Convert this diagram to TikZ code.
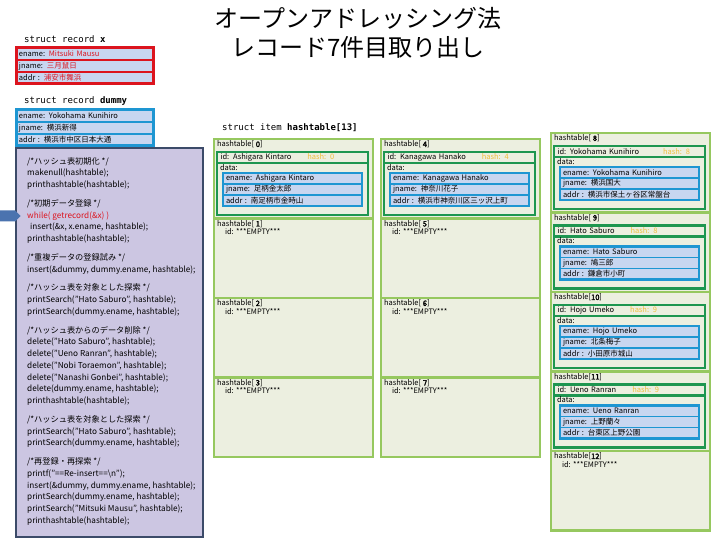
\documentclass[tikz,border=0pt]{standalone}
\usepackage{fontspec}
\setmainfont{Noto Sans CJK JP}[BoldFont={Noto Sans CJK JP}, BoldFeatures={FakeBold=2.5}]
\newfontfamily\monofont{DejaVu Sans Mono}
\usepackage{xcolor}
\usepackage{tikz}
\usetikzlibrary{positioning,fit,shapes.arrows}

\definecolor{cellgreen}{RGB}{150,200,95}
\definecolor{cellbg}{RGB}{236,239,224}
\definecolor{idgreen}{RGB}{30,150,80}
\definecolor{recblue}{RGB}{30,150,210}
\definecolor{rowblue}{RGB}{200,214,240}
\definecolor{recred}{RGB}{220,20,30}
\definecolor{codebg}{RGB}{204,198,226}
\definecolor{codeline}{RGB}{60,75,105}
\definecolor{arrblue}{RGB}{75,115,175}
\definecolor{hashyel}{RGB}{240,190,60}

\begin{document}
\begin{tikzpicture}[
  x=1pt, y=-1pt,
  font=\fontsize{7.5}{9}\selectfont,
  cell/.style={rectangle, draw=cellgreen, line width=2.5pt, fill=cellbg,
               minimum width=159pt, minimum height=79.5pt, inner sep=0pt,
               outer sep=0pt, anchor=north west},
  lbl/.style={anchor=north west, inner sep=0pt, outer sep=0pt},
  idbox/.style={rectangle, draw=idgreen, line width=2.5pt, fill=cellbg,
                text width=144pt, minimum height=11pt, inner xsep=3.5pt,
                inner ysep=0pt, outer sep=0pt, align=left, anchor=north west},
  databox/.style={rectangle, draw=idgreen, line width=2.5pt, fill=cellbg,
                  minimum width=151pt, minimum height=52pt, inner sep=0pt,
                  outer sep=0pt, anchor=north west},
  recrow/.style={rectangle, draw=recblue, line width=1.5pt, fill=rowblue,
                 text width=133pt, minimum height=11pt, inner xsep=3pt,
                 inner ysep=0pt, outer sep=0pt, align=left, anchor=north west},
  redrow/.style={recrow, draw=recred, text width=131pt, minimum height=12pt},
  recframe/.style={draw=recblue, line width=2.5pt, inner sep=0pt, outer sep=0pt},
  codebox/.style={rectangle, draw=codeline, line width=1.5pt, fill=codebg,
                  minimum width=187pt, minimum height=389pt, inner sep=0pt,
                  outer sep=0pt, anchor=north west},
  codetxt/.style={anchor=north west, inner sep=0pt, align=left,
                  font=\fontsize{8.2}{11.75}\selectfont},
  structlbl/.style={anchor=west, inner sep=0pt, font=\monofont\fontsize{9}{11}\selectfont},
]

\path[use as bounding box, fill=white] (0,0) rectangle (720,540);

%% ===== Title =====
\node[align=center, font=\fontsize{24}{29}\selectfont] (title) at (358,33)
  {オープンアドレッシング法\\レコード7件目取り出し};

%% ===== struct record x =====
\node[structlbl] (xlbl) at (24,39) {struct record \textbf{x}};
\node[redrow] (xen) at (16,48) {ename: \textcolor{recred}{Mitsuki Mausu}};
\node[redrow, below right=0pt and 0pt of xen.south west] (xjn) {jname: \textcolor{recred}{三月鼠日}};
\node[redrow, below right=0pt and 0pt of xjn.south west] (xad) {addr\ : \textcolor{recred}{浦安市舞浜}};
\node[recframe, draw=recred, line width=3pt, fit=(xen)(xad)] (xrec) {};

%% ===== struct record dummy =====
\node[structlbl] (dlbl) at (24,101) {struct record \textbf{dummy}};
\node[redrow, draw=recblue] (den) at (16,110) {ename: Yokohama Kunihiro};
\node[redrow, draw=recblue, below right=0pt and 0pt of den.south west] (djn) {jname: 横浜新得};
\node[redrow, draw=recblue, below right=0pt and 0pt of djn.south west] (dad) {addr\ : 横浜市中区日本大通};
\node[recframe, line width=3pt, fit=(den)(dad)] (drec) {};

%% ===== main program =====
\node[codebox] (code) at (16,148) {};
\node[codetxt, below right=9pt and 11pt of code.north west] (codetext) {
  /*ハッシュ表初期化 */\\
  makenull(hashtable);\\
  printhashtable(hashtable);\\[7pt]
  /*初期データ登録 */\\
  \textcolor{recred}{while( getrecord(\&x) )}\\
  \hspace{3pt}insert(\&x, x.ename, hashtable);\\
  printhashtable(hashtable);\\[7pt]
  /*重複データの登録試み */\\
  insert(\&dummy, dummy.ename, hashtable);\\[7pt]
  /*ハッシュ表を対象とした探索 */\\
  printSearch("Hato Saburo", hashtable);\\
  printSearch(dummy.ename, hashtable);\\[7pt]
  /*ハッシュ表からのデータ削除 */\\
  delete("Hato Saburo", hashtable);\\
  delete("Ueno Ranran", hashtable);\\
  delete("Nobi Toraemon", hashtable);\\
  delete("Nanashi Gonbei", hashtable);\\
  delete(dummy.ename, hashtable);\\
  printhashtable(hashtable);\\[7pt]
  /*ハッシュ表を対象とした探索 */\\
  printSearch("Hato Saburo", hashtable);\\
  printSearch(dummy.ename, hashtable);\\[7pt]
  /*再登録・再探索 */\\
  printf("==Re-insert==\textbackslash n");\\
  insert(\&dummy, dummy.ename, hashtable);\\
  printSearch(dummy.ename, hashtable);\\
  printSearch("Mitsuki Mausu", hashtable);\\
  printhashtable(hashtable);};

\node[single arrow, fill=arrblue, draw=none, minimum height=21pt, minimum width=11pt,
      single arrow head extend=0pt, inner sep=0pt, anchor=tip] (ptr) at (21,216) {};

%% ===== struct item hashtable[13] =====
\node[structlbl] (tlbl) at (222,128) {struct item \textbf{hashtable[13]}};

%% ----- column 1 -----
\node[cell] (h0) at (214,139) {};
\node[lbl, below right=2pt and 3pt of h0.north west] (h0lbl) {hashtable[\textbf{ 0}]};
\node[idbox, below right=13pt and 3pt of h0.north west] (h0id)
  {id: Ashigara Kintaro\hspace{16pt}\textcolor{hashyel}{hash: 0}};
\node[databox, below right=0pt and 0pt of h0id.south west] (h0data) {};
\node[lbl, below right=1.5pt and 3pt of h0data.north west] (h0dlbl) {data:};
\node[recrow, below right=10pt and 6pt of h0data.north west] (h0en) {ename: Ashigara Kintaro};
\node[recrow, below right=0pt and 0pt of h0en.south west] (h0jn) {jname: 足柄金太郎};
\node[recrow, below right=0pt and 0pt of h0jn.south west] (h0ad) {addr\ : 南足柄市金時山};
\node[recframe, fit=(h0en)(h0ad)] (h0rec) {};

\node[cell, below=0pt of h0] (h1) {};
\node[lbl, below right=2pt and 3pt of h1.north west] (h1lbl) {hashtable[\textbf{ 1}]};
\node[lbl, below right=1pt and 8pt of h1lbl.south west] (h1id) {id: ***EMPTY***};

\node[cell, below=0pt of h1] (h2) {};
\node[lbl, below right=2pt and 3pt of h2.north west] (h2lbl) {hashtable[\textbf{ 2}]};
\node[lbl, below right=1pt and 8pt of h2lbl.south west] (h2id) {id: ***EMPTY***};

\node[cell, below=0pt of h2] (h3) {};
\node[lbl, below right=2pt and 3pt of h3.north west] (h3lbl) {hashtable[\textbf{ 3}]};
\node[lbl, below right=1pt and 8pt of h3lbl.south west] (h3id) {id: ***EMPTY***};

%% ----- column 2 -----
\node[cell] (h4) at (381,139) {};
\node[lbl, below right=2pt and 3pt of h4.north west] (h4lbl) {hashtable[\textbf{ 4}]};
\node[idbox, below right=13pt and 3pt of h4.north west] (h4id)
  {id: Kanagawa Hanako\hspace{16pt}\textcolor{hashyel}{hash: 4}};
\node[databox, below right=0pt and 0pt of h4id.south west] (h4data) {};
\node[lbl, below right=1.5pt and 3pt of h4data.north west] (h4dlbl) {data:};
\node[recrow, below right=10pt and 6pt of h4data.north west] (h4en) {ename: Kanagawa Hanako};
\node[recrow, below right=0pt and 0pt of h4en.south west] (h4jn) {jname: 神奈川花子};
\node[recrow, below right=0pt and 0pt of h4jn.south west] (h4ad) {addr\ : 横浜市神奈川区三ッ沢上町};
\node[recframe, fit=(h4en)(h4ad)] (h4rec) {};

\node[cell, below=0pt of h4] (h5) {};
\node[lbl, below right=2pt and 3pt of h5.north west] (h5lbl) {hashtable[\textbf{ 5}]};
\node[lbl, below right=1pt and 8pt of h5lbl.south west] (h5id) {id: ***EMPTY***};

\node[cell, below=0pt of h5] (h6) {};
\node[lbl, below right=2pt and 3pt of h6.north west] (h6lbl) {hashtable[\textbf{ 6}]};
\node[lbl, below right=1pt and 8pt of h6lbl.south west] (h6id) {id: ***EMPTY***};

\node[cell, below=0pt of h6] (h7) {};
\node[lbl, below right=2pt and 3pt of h7.north west] (h7lbl) {hashtable[\textbf{ 7}]};
\node[lbl, below right=1pt and 8pt of h7lbl.south west] (h7id) {id: ***EMPTY***};

%% ----- column 3 -----
\node[cell] (h8) at (551,133) {};
\node[lbl, below right=2pt and 3pt of h8.north west] (h8lbl) {hashtable[\textbf{ 8}]};
\node[idbox, below right=13pt and 3pt of h8.north west] (h8id)
  {id: Yokohama Kunihiro\hspace{24pt}\textcolor{hashyel}{hash: 8}};
\node[databox, below right=0pt and 0pt of h8id.south west] (h8data) {};
\node[lbl, below right=1.5pt and 3pt of h8data.north west] (h8dlbl) {data:};
\node[recrow, below right=10pt and 6pt of h8data.north west] (h8en) {ename: Yokohama Kunihiro};
\node[recrow, below right=0pt and 0pt of h8en.south west] (h8jn) {jname: 横浜国大};
\node[recrow, below right=0pt and 0pt of h8jn.south west] (h8ad) {addr\ : 横浜市保土ヶ谷区常盤台};
\node[recframe, fit=(h8en)(h8ad)] (h8rec) {};

\node[cell, below=0pt of h8] (h9) {};
\node[lbl, below right=2pt and 3pt of h9.north west] (h9lbl) {hashtable[\textbf{ 9}]};
\node[idbox, below right=13pt and 3pt of h9.north west] (h9id)
  {id: Hato Saburo\hspace{16pt}\textcolor{hashyel}{hash: 8}};
\node[databox, below right=0pt and 0pt of h9id.south west] (h9data) {};
\node[lbl, below right=1.5pt and 3pt of h9data.north west] (h9dlbl) {data:};
\node[recrow, below right=10pt and 6pt of h9data.north west] (h9en) {ename: Hato Saburo};
\node[recrow, below right=0pt and 0pt of h9en.south west] (h9jn) {jname: 鳩三郎};
\node[recrow, below right=0pt and 0pt of h9jn.south west] (h9ad) {addr\ : 鎌倉市小町};
\node[recframe, fit=(h9en)(h9ad)] (h9rec) {};

\node[cell, below=0pt of h9] (h10) {};
\node[lbl, below right=2pt and 3pt of h10.north west] (h10lbl) {hashtable[\textbf{10}]};
\node[idbox, below right=13pt and 3pt of h10.north west] (h10id)
  {id: Hojo Umeko\hspace{16pt}\textcolor{hashyel}{hash: 9}};
\node[databox, below right=0pt and 0pt of h10id.south west] (h10data) {};
\node[lbl, below right=1.5pt and 3pt of h10data.north west] (h10dlbl) {data:};
\node[recrow, below right=10pt and 6pt of h10data.north west] (h10en) {ename: Hojo Umeko};
\node[recrow, below right=0pt and 0pt of h10en.south west] (h10jn) {jname: 北条梅子};
\node[recrow, below right=0pt and 0pt of h10jn.south west] (h10ad) {addr\ : 小田原市城山};
\node[recframe, fit=(h10en)(h10ad)] (h10rec) {};

\node[cell, below=0pt of h10] (h11) {};
\node[lbl, below right=2pt and 3pt of h11.north west] (h11lbl) {hashtable[\textbf{11}]};
\node[idbox, below right=13pt and 3pt of h11.north west] (h11id)
  {id: Ueno Ranran\hspace{16pt}\textcolor{hashyel}{hash: 9}};
\node[databox, below right=0pt and 0pt of h11id.south west] (h11data) {};
\node[lbl, below right=1.5pt and 3pt of h11data.north west] (h11dlbl) {data:};
\node[recrow, below right=10pt and 6pt of h11data.north west] (h11en) {ename: Ueno Ranran};
\node[recrow, below right=0pt and 0pt of h11en.south west] (h11jn) {jname: 上野蘭々};
\node[recrow, below right=0pt and 0pt of h11jn.south west] (h11ad) {addr\ : 台東区上野公園};
\node[recframe, fit=(h11en)(h11ad)] (h11rec) {};

\node[cell, below=0pt of h11] (h12) {};
\node[lbl, below right=2pt and 3pt of h12.north west] (h12lbl) {hashtable[\textbf{12}]};
\node[lbl, below right=1pt and 8pt of h12lbl.south west] (h12id) {id: ***EMPTY***};

\end{tikzpicture}
\end{document}
